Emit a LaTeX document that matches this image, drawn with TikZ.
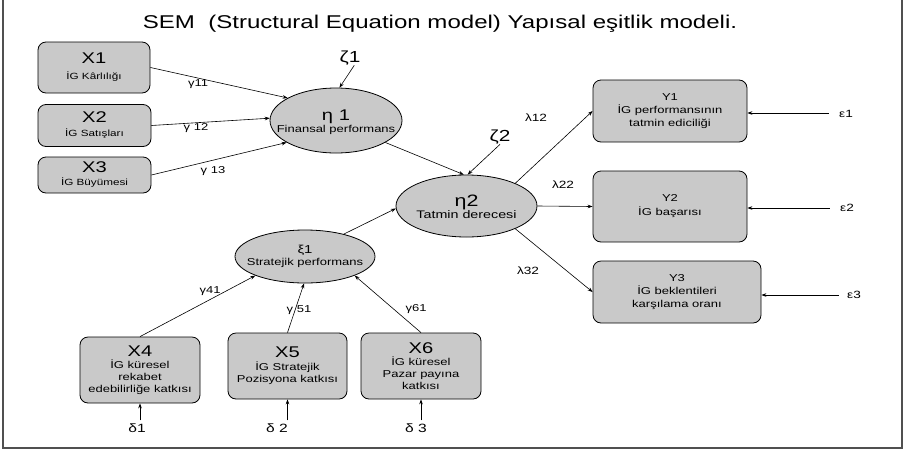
\documentclass[tikz,border=0pt]{standalone}
\usepackage{fontspec}
\setmainfont[FakeStretch=1.3]{Liberation Sans}
\usetikzlibrary{arrows.meta,shapes.geometric}
\definecolor{boxgray}{RGB}{201,201,201}
\definecolor{framegray}{RGB}{80,80,80}
\newcommand{\fs}[2]{\fontsize{#1}{#2}\selectfont}
\begin{document}
\begin{tikzpicture}[x=1pt,y=-1pt,
  box/.style={draw=black,line width=0.8pt,fill=boxgray,rounded corners=8pt,inner sep=0pt,align=center},
  latent/.style={draw=black,line width=0.8pt,fill=boxgray,ellipse,inner sep=0pt},
  intext/.style={align=center,inner sep=0pt},
  arr/.style={-{Stealth[length=5pt,width=3.6pt]},line width=0.6pt},
  glbl/.style={inner sep=0pt,font=\fs{10}{11}},
  elbl/.style={inner sep=0pt,font=\fs{10.5}{12}},
  dlbl/.style={inner sep=0pt,font=\fs{12}{14}},
  zlbl/.style={inner sep=0pt,font=\fs{16}{18}},
  ]
\useasboundingbox (0,0) rectangle (904,453);
\draw[framegray,line width=2pt] (3,0) -- (3,448) -- (902,448) -- (902,0);

\node[anchor=base,inner sep=0pt,font=\fs{18.5}{20}] (title) at (440,28) {SEM\ \ (Structural Equation model) Yapısal eşitlik modeli.};

% observed exogenous
\node[box,minimum width=112pt,minimum height=51pt] (X1) at (94,67.5) {\fs{15.5}{15}X1\\[4pt]\fs{9}{11}İG Kârlılığı};
\node[box,minimum width=113pt,minimum height=42pt] (X2) at (94.5,125.5) {\fs{15.5}{15}X2\\[2pt]\fs{9}{11}İG Satışları};
\node[box,minimum width=113pt,minimum height=36pt] (X3) at (94.5,175) {\fs{15.5}{15}X3\\[1pt]\fs{9}{11}İG Büyümesi};
\node[box,minimum width=120pt,minimum height=66pt] (X4) at (140,370) {\fs{15.5}{15}X4\\\fs{10}{13}İG küresel\\rekabet\\edebilirliğe katkısı};
\node[box,minimum width=119pt,minimum height=66pt] (X5) at (287.5,366) {\fs{15.5}{15}X5\\[1pt]\fs{10}{13}İG Stratejik\\Pozisyona katkısı};
\node[box,minimum width=120pt,minimum height=66pt] (X6) at (421,366) {\fs{15.5}{15}X6\\\fs{10}{13}İG küresel\\Pazar payına\\katkısı};

% observed endogenous
\node[box,minimum width=154pt,minimum height=62pt,font=\fs{10}{13}] (Y1) at (670,111) {Y1\\İG performansının\\tatmin ediciliği};
\node[box,minimum width=154pt,minimum height=71pt,font=\fs{10}{14}] (Y2) at (670,206.5) {Y2\\İG başarısı};
\node[box,minimum width=168pt,minimum height=62pt,font=\fs{10}{13}] (Y3) at (677,292) {Y3\\İG beklentileri\\karşılama oranı};

% latent
\node[latent,minimum width=132pt,minimum height=65pt] (eta1) at (336,120.5) {};
\node[intext] (eta1t) at (336,122) {\fs{15.5}{15}η 1\\\fs{10}{12}Finansal performans};
\node[latent,minimum width=141pt,minimum height=62pt] (eta2) at (466.5,206) {};
\node[intext] (eta2t) at (466.5,207) {\fs{16.5}{16}η2\\\fs{11}{13}Tatmin derecesi};
\node[latent,minimum width=140pt,minimum height=53pt] (xi1) at (305,256.5) {};
\node[intext] (xi1t) at (305,256.5) {\fs{11.5}{14}ξ1\\Stratejik performans};

% disturbances / errors
\node[zlbl] (zeta1) at (350,58) {ζ1};
\node[zlbl] (zeta2) at (500,137) {ζ2};
\node[elbl] (eps1) at (846,114) {ε1};
\node[elbl] (eps2) at (847,208) {ε2};
\node[elbl] (eps3) at (854,295) {ε3};
\node[dlbl] (delta1) at (137,428) {δ1};
\node[dlbl] (delta2) at (277,428) {δ 2};
\node[dlbl] (delta3) at (416,428) {δ 3};

% paths
\draw[arr] (X1.east) -- (eta1.155);
\draw[arr] (X2.east) -- (eta1.178);
\draw[arr] (X3.east) -- (eta1.204);
\draw[arr] (zeta1.-60) -- (eta1.84);
\draw[arr] (eta1.-24) -- (eta2.95);
\draw[arr] (zeta2.-90) -- (eta2.88);
\draw[arr] (xi1.30) -- (eta2.182);
\draw[arr] (X4.north) -- (xi1.201);
\draw[arr] (X5.north) -- (xi1.268);
\draw[arr] (X6.north) -- (xi1.339);
\draw[arr] (X4.south |- delta1.north) ++(0,-3) coordinate (d1s) -- (X4.south);
\draw[arr] (X5.south |- delta2.north) ++(0,-3) coordinate (d2s) -- (X5.south);
\draw[arr] (X6.south |- delta3.north) ++(0,-3) coordinate (d3s) -- (X6.south);
\draw[arr] (eta2.25) -- (Y1.west);
\draw[arr] (eta2.east) -- (Y2.west);
\draw[arr] (eta2.-25) -- (Y3.west);
\draw[arr] (eps1.west) ++(-10,-1) coordinate (e1s) -- (e1s -| Y1.east);
\draw[arr] (eps2.west) ++(-10,0) coordinate (e2s) -- (e2s -| Y2.east);
\draw[arr] (eps3.west) ++(-8,0) coordinate (e3s) -- (e3s -| Y3.east);

% path coefficients
\node[glbl] (g11) at (198,84) {γ11};
\node[glbl] (g12) at (196,128) {γ 12};
\node[glbl] (g13) at (213,171) {γ 13};
\node[glbl] (g41) at (210,291) {γ41};
\node[glbl] (g51) at (299,310) {γ 51};
\node[glbl] (g61) at (416,309) {γ61};
\node[elbl] (l12) at (536,118) {λ12};
\node[elbl] (l22) at (563,185) {λ22};
\node[elbl] (l32) at (528,271) {λ32};
\end{tikzpicture}
\end{document}
